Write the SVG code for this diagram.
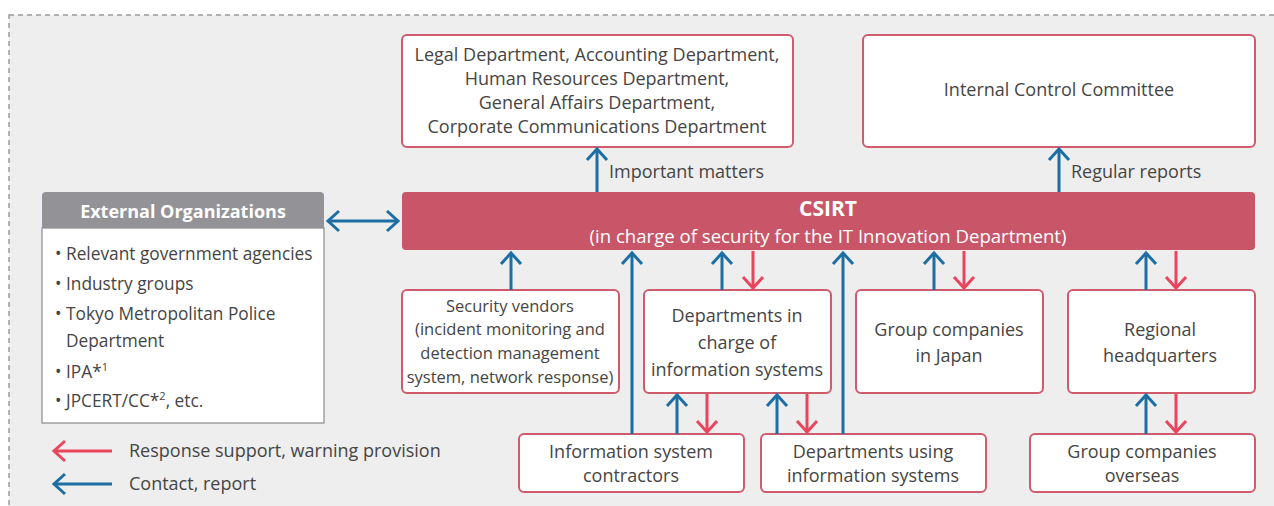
<svg xmlns="http://www.w3.org/2000/svg" width="1274" height="506" viewBox="0 0 1274 506">
<style>
.bx{fill:#fff;stroke:#cf5b6c;stroke-width:2}
.t{font-family:"Open Sans","Liberation Sans",sans-serif;font-size:18px;fill:#454545;text-anchor:middle}
.ts{font-size:16.5px}
.tli{font-size:17.3px}
.tl{text-anchor:start}
.w{fill:#fff;font-weight:bold}
.big{font-size:21px}
.sub{fill:#fff;font-size:18.6px;font-weight:500}
.b{stroke:#1d6fa3;stroke-width:3;fill:none}
.r{stroke:#e9455d;stroke-width:3;fill:none}
.bb{marker-end:url(#hb)}
.rr{marker-end:url(#hr)}
</style>
<defs>
<marker id="hb" markerUnits="userSpaceOnUse" orient="auto" markerWidth="30" markerHeight="30" refX="0" refY="0" viewBox="-15 -15 30 30" overflow="visible"><path d="M-11,-10 L0,0 L-11,10" fill="none" stroke="#1d6fa3" stroke-width="3"/></marker>
<marker id="hr" markerUnits="userSpaceOnUse" orient="auto" markerWidth="30" markerHeight="30" refX="0" refY="0" viewBox="-15 -15 30 30" overflow="visible"><path d="M-11,-10 L0,0 L-11,10" fill="none" stroke="#e9455d" stroke-width="3"/></marker>
<marker id="hbs" markerUnits="userSpaceOnUse" orient="auto-start-reverse" markerWidth="30" markerHeight="30" refX="0" refY="0" viewBox="-15 -15 30 30" overflow="visible"><path d="M-11,-10 L0,0 L-11,10" fill="none" stroke="#1d6fa3" stroke-width="3"/></marker>
</defs>
<rect x="0" y="0" width="1274" height="506" fill="#fff"/>
<rect x="9" y="15" width="1300" height="520" fill="#eeeeee" stroke="#9a9a9a" stroke-width="1.5" stroke-dasharray="5,4"/>

<g id="legal">
<rect class="bx" x="402" y="35" width="391" height="112" rx="5"/>
<text class="t" x="597" y="61">Legal Department, Accounting Department,</text>
<text class="t" x="597" y="85">Human Resources Department,</text>
<text class="t" x="597" y="109">General Affairs Department,</text>
<text class="t" x="597" y="133">Corporate Communications Department</text>
</g>
<g id="icc">
<rect class="bx" x="863" y="35" width="392" height="112" rx="5"/>
<text class="t" x="1059" y="96">Internal Control Committee</text>
</g>
<g id="csirt">
<rect x="402" y="192" width="853" height="58" rx="4" fill="#c85668"/>
<text class="t w big" x="828" y="216">CSIRT</text>
<text class="t sub" x="828" y="243">(in charge of security for the IT Innovation Department)</text>
</g>
<g id="external">
<rect x="42" y="228" width="282" height="195" fill="#fff" stroke="#a0a0a4" stroke-width="1.5"/>
<rect x="42" y="192" width="282" height="36" rx="4" fill="#939397"/>
<rect x="42" y="210" width="282" height="18" fill="#939397"/>
<text class="t w" x="183" y="218">External Organizations</text>
<text class="t tl tli" x="55" y="260">• Relevant government agencies</text>
<text class="t tl tli" x="55" y="290">• Industry groups</text>
<text class="t tl tli" x="55" y="320">• Tokyo Metropolitan Police</text>
<text class="t tl tli" x="66" y="347">Department</text>
<text class="t tl tli" x="55" y="378">• IPA*<tspan font-size="11" dy="-7">1</tspan></text>
<text class="t tl tli" x="55" y="407">• JPCERT/CC*<tspan font-size="11" dy="-7">2</tspan><tspan dy="7">, etc.</tspan></text>
</g>
<g id="vendors">
<rect class="bx" x="402" y="290" width="217" height="103" rx="5"/>
<text class="t ts" x="510" y="312">Security vendors</text>
<text class="t ts" x="510" y="335">(incident monitoring and</text>
<text class="t ts" x="510" y="359">detection management</text>
<text class="t ts" x="510" y="383">system, network response)</text>
</g>
<g id="deptcharge">
<rect class="bx" x="644" y="290" width="187" height="103" rx="5"/>
<text class="t" x="737" y="322">Departments in</text>
<text class="t" x="737" y="349">charge of</text>
<text class="t" x="737" y="376">information systems</text>
</g>
<g id="groupjp">
<rect class="bx" x="856" y="290" width="187" height="103" rx="5"/>
<text class="t" x="949" y="336">Group companies</text>
<text class="t" x="949" y="362">in Japan</text>
</g>
<g id="regional">
<rect class="bx" x="1068" y="290" width="187" height="103" rx="5"/>
<text class="t" x="1160" y="336">Regional</text>
<text class="t" x="1160" y="362">headquarters</text>
</g>
<g id="contractors">
<rect class="bx" x="519" y="434" width="225" height="58" rx="5"/>
<text class="t" x="631" y="458">Information system</text>
<text class="t" x="631" y="482">contractors</text>
</g>
<g id="deptusing">
<rect class="bx" x="761" y="434" width="225" height="58" rx="5"/>
<text class="t" x="873" y="458">Departments using</text>
<text class="t" x="873" y="482">information systems</text>
</g>
<g id="overseas">
<rect class="bx" x="1030" y="434" width="225" height="58" rx="5"/>
<text class="t" x="1142" y="458">Group companies</text>
<text class="t" x="1142" y="482">overseas</text>
</g>

<g id="connectors">
<path class="b bb" d="M597,192 V149"/>
<text class="t tl" x="609" y="178">Important matters</text>
<path class="b bb" d="M1059,192 V149"/>
<text class="t tl" x="1071" y="178">Regular reports</text>
<path class="b" d="M328,221 H398" marker-start="url(#hbs)" marker-end="url(#hbs)"/>
<path class="b bb" d="M511,290 V253"/>
<path class="b bb" d="M632,434 V253"/>
<path class="b bb" d="M722,290 V253"/>
<path class="r rr" d="M753,251 V288"/>
<path class="b bb" d="M677,434 V395"/>
<path class="r rr" d="M707,394 V432"/>
<path class="b bb" d="M777,434 V395"/>
<path class="r rr" d="M807,394 V432"/>
<path class="b bb" d="M843,434 V253"/>
<path class="b bb" d="M934,290 V253"/>
<path class="r rr" d="M964,251 V288"/>
<path class="b bb" d="M1146,290 V253"/>
<path class="r rr" d="M1176,251 V288"/>
<path class="b bb" d="M1146,434 V395"/>
<path class="r rr" d="M1176,394 V432"/>
</g>
<g id="legend">
<path class="r rr" d="M112,451 H54"/>
<path class="b bb" d="M112,484 H54"/>
<text class="t tl" x="129" y="457">Response support, warning provision</text>
<text class="t tl" x="129" y="490">Contact, report</text>
</g>
</svg>
